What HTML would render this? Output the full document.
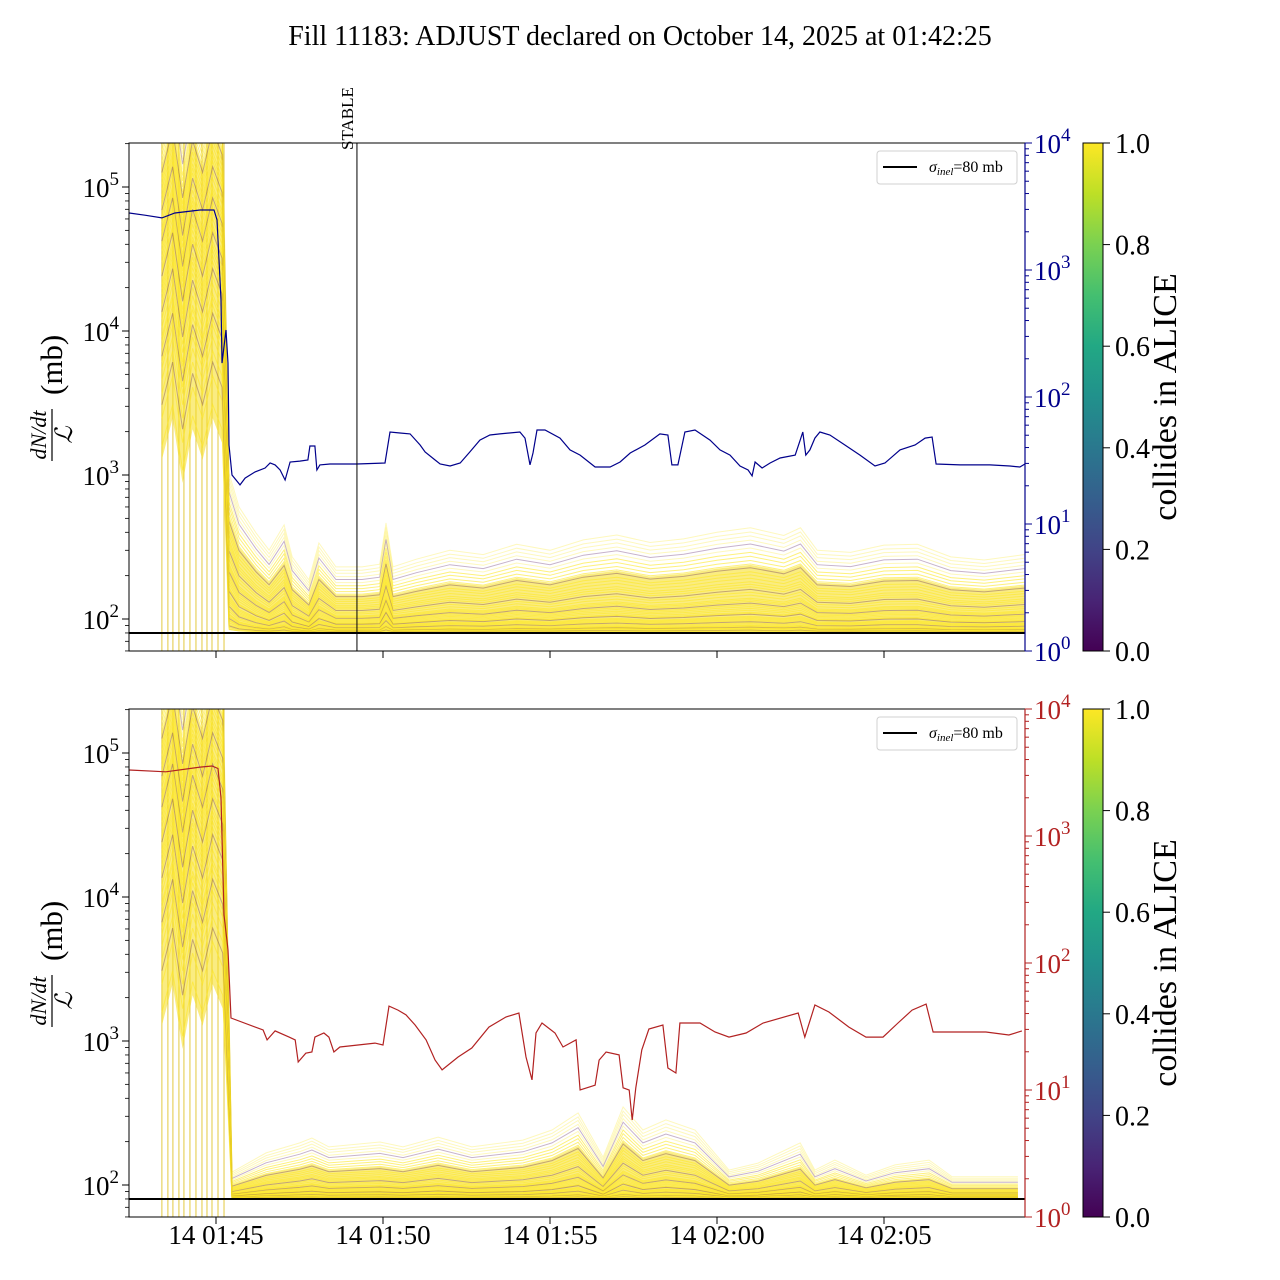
<!DOCTYPE html>
<html><head><meta charset="utf-8"><style>
html,body{margin:0;padding:0;background:#fff}
svg{display:block;font-family:"Liberation Serif",serif}
</style></head><body>
<svg id="fig" width="1280" height="1280" viewBox="0 0 1280 1280" xmlns="http://www.w3.org/2000/svg">
<defs>
<linearGradient id="viridis" x1="0" y1="1" x2="0" y2="0">
<stop offset="0" stop-color="#440154"/><stop offset="0.1" stop-color="#482475"/><stop offset="0.2" stop-color="#414487"/><stop offset="0.3" stop-color="#355f8d"/><stop offset="0.4" stop-color="#2a788e"/><stop offset="0.5" stop-color="#21918c"/><stop offset="0.6" stop-color="#22a884"/><stop offset="0.7" stop-color="#44bf70"/><stop offset="0.8" stop-color="#7ad151"/><stop offset="0.9" stop-color="#bddf26"/><stop offset="1" stop-color="#fde725"/>
</linearGradient>
<clipPath id="clipTop"><rect x="129" y="143" width="896" height="508"/></clipPath>
<clipPath id="clipBot"><rect x="129" y="709" width="896" height="508"/></clipPath>
</defs>
<rect width="1280" height="1280" fill="#fff"/>
<text x="640" y="45" font-size="28" text-anchor="middle">Fill 11183: ADJUST declared on October 14, 2025 at 01:42:25</text>
<g id="gTop"></g>
<g id="gBot"></g>
</svg>
<script>
// ---- data (time in minutes relative to 14 Oct 01:45:00) ----
const xTickLabels = ["14 01:45","14 01:50","14 01:55","14 02:00","14 02:05"];
const xTickMinutes = [0,5,10,15,20];
const stableMinute = 4.22;
const sigmaInel = 80;
const gapMinutes = [-1.62,-1.44,-1.29,-1.11,-0.96,-0.78,-0.60,-0.42,-0.27,-0.12,0.06,0.24];
// top panel bunch envelope (mb)
const topEnvT = [-1.62,-1.3,-1.0,-0.7,-0.4,-0.1,0.18,0.39,0.69,1.20,1.59,2.04,2.28,2.78,3.08,3.59,4.37,4.9,5.09,5.3,6.0,7.0,8.0,9.0,10.0,11.0,12.0,13.0,14.0,15.0,16.0,17.0,17.5,18.0,19.0,20.0,21.0,22.0,23.0,24.2];
const topEnvV = [3e5,6e5,2e5,5e5,3e5,6e5,4e5,1030,600,395,301,450,270,187,337,230,230,240,464,230,260,300,280,330,300,354,383,340,360,400,430,380,430,300,290,326,330,270,257,280];
// bottom panel bunch envelope (mb)
const botEnvT = [-1.62,-1.3,-1.0,-0.7,-0.4,-0.1,0.2,0.48,1.50,2.51,2.87,3.38,4.91,5.60,6.65,7.66,9.19,10.06,10.84,11.59,12.19,12.78,13.47,14.34,15.36,16.23,17.49,17.93,18.53,19.46,20.33,21.35,22.04,24.01];
const botEnvV = [3e5,6e5,2e5,5e5,3e5,6e5,4e5,123,167,196,212,184,199,184,215,184,205,241,316,156,348,241,283,241,127,142,196,127,149,117,138,149,114,114];
// per-bunch fraction of envelope excess and "collides in ALICE" colour value
const bunchFrac = [1.0,0.92,0.85,0.78,0.72,0.66,0.6,0.55,0.5,0.46,0.42,0.38,0.35,0.32,0.29,0.27,0.25,0.23,0.21,0.19,0.17,0.16,0.15,0.14,0.13,0.12,0.11,0.10,0.09,0.085,0.08,0.07,0.065,0.06,0.055,0.05,0.045,0.04,0.035,0.03,0.028,0.025,0.022,0.02,0.018,0.015,0.012,0.01,0.008,0.005];
const bunchColl = [1,1,1,1,0,1,1,1,1,1,0,1,1,1,1,1,1,0,1,1,1,1,1,0,1,1,1,1,1,1,0,1,1,1,1,1,0,1,1,1,1,1,0,1,1,1,1,0,1,1];
const bandFrac = [0.004, 0.45];
// top right-axis series (navy)
const blueT = [-2.60,-2.13,-1.62,-1.23,-0.48,-0.06,0.03,0.15,0.18,0.30,0.36,0.39,0.48,0.72,0.87,1.17,1.47,1.62,1.77,1.92,2.07,2.22,2.51,2.75,2.81,2.96,3.02,3.11,3.41,4.22,5.06,5.21,5.51,5.81,6.11,6.26,6.56,6.71,7.01,7.31,7.60,7.90,8.20,8.50,9.10,9.25,9.40,9.49,9.61,9.85,10.30,10.60,10.90,11.35,11.80,12.10,12.40,12.84,13.29,13.53,13.65,13.83,14.04,14.34,14.79,15.09,15.39,15.69,15.93,16.05,16.14,16.35,16.59,16.89,17.34,17.49,17.57,17.66,17.78,17.93,18.08,18.38,18.83,19.28,19.73,20.03,20.48,20.93,21.23,21.44,21.56,22.28,23.17,23.77,24.07,24.22];
const blueV = [2810,2700,2570,2810,2970,2970,2480,580,185,337,185,41.9,24.3,20.3,23.0,25.7,27.6,30.2,29.2,26.6,22.2,30.8,31.3,31.9,41.1,41.1,26.6,29.2,29.7,29.7,30.2,53.0,52.1,51.2,41.9,36.9,31.9,29.7,28.6,30.2,36.9,45.8,50.2,51.2,53.0,47.5,29.2,36.2,55.0,55.0,47.5,38.3,34.9,28.1,28.1,30.8,36.2,41.9,51.2,50.2,29.2,29.2,53.0,55.0,45.8,38.3,34.9,28.6,26.6,23.9,30.8,27.6,30.2,33.1,34.9,45.8,53.0,34.9,38.3,47.5,53.0,50.2,41.9,34.9,28.6,30.2,38.3,41.9,47.5,48.4,29.7,29.2,29.2,28.6,28.1,29.7];
// bottom right-axis series (red)
const redT = [-2.60,-1.5,-0.48,-0.12,0.06,0.15,0.24,0.36,0.45,1.41,1.53,1.77,2.19,2.37,2.46,2.69,2.87,2.96,3.23,3.38,3.53,3.71,4.76,5.00,5.18,5.45,5.69,5.96,6.29,6.56,6.77,7.25,7.66,8.17,8.68,9.07,9.28,9.46,9.58,9.76,10.15,10.39,10.78,10.90,11.35,11.47,11.68,12.07,12.19,12.37,12.46,12.57,12.75,12.96,13.38,13.53,13.77,13.89,14.49,14.94,15.36,15.87,16.38,17.43,17.63,17.93,18.35,18.95,19.46,19.97,20.42,20.84,21.26,21.47,23.05,23.74,24.13];
const redV = [3310,3200,3490,3560,3400,2000,239,127,36.9,29.7,24.8,29.2,26.1,24.8,16.6,19.5,19.9,26.1,28.1,26.1,19.9,21.8,23.4,22.6,45.8,42.6,39.0,32.5,24.8,17.2,14.4,18.2,21.4,31.3,37.6,40.4,18.2,12.0,28.1,33.7,28.1,21.8,24.8,10.0,10.9,17.2,19.9,18.9,10.4,10.0,5.8,10.4,20.7,30.2,32.5,14.9,13.6,33.7,33.7,28.6,26.1,28.1,33.7,40.4,26.1,46.7,41.1,31.3,26.1,26.1,33.7,42.6,47.5,28.6,28.6,27.1,29.2];
const colorbarTicks = ["0.0","0.2","0.4","0.6","0.8","1.0"];
const leftDecades = [2,3,4,5];
const rightDecades = [0,1,2,3,4];

// ---- scales ----
const NS = "http://www.w3.org/2000/svg";
const X0 = 216, PXMIN = 33.4;
function xs(t){ return X0 + t*PXMIN; }
function yLeft(v, top){ return top + 44 - (Math.log10(v)-5)*144; }
function yRight(v, top){ return top + 508 - Math.log10(v)*127; }
function mk(tag, attrs, parent){ const e=document.createElementNS(NS,tag); for(const k in attrs) e.setAttribute(k, attrs[k]); parent.appendChild(e); return e; }
function viridis(c){ return c>0.5 ? "#fde725" : "#440154"; }

function panel(g, top, clipId, envT, envV, rT, rV, rColor, isTop){
  const bottom = top+508;
  const bg = mk('g', {'clip-path':`url(#${clipId})`}, g);
  
  
  gapMinutes.forEach(t=>{
    const l = mk('line', {x1:xs(t), x2:xs(t), y1:top, y2:bottom, stroke:'#dcbc10', 'stroke-width':1, opacity:0.8}, bg);
    
    
  });
  // dense band fill
  let up='', lo='';
  envT.forEach((t,j)=>{
    const vHi = sigmaInel + (envV[j]-sigmaInel)*bandFrac[1];
    up += (j?'L':'M') + xs(t).toFixed(1) + ',' + yLeft(vHi,top).toFixed(1);
  });
  for(let j=envT.length-1;j>=0;j--){
    const vLo = sigmaInel + (envV[j]-sigmaInel)*bandFrac[0];
    lo += 'L' + xs(envT[j]).toFixed(1) + ',' + yLeft(vLo,top).toFixed(1);
  }
  const band = mk('path', {d:up+lo+'Z', fill:'#f5dc1a', opacity:0.55}, bg);
  
  
  bunchFrac.forEach((f,i)=>{
    let d='';
    envT.forEach((t,j)=>{
      const v = sigmaInel + (envV[j]-sigmaInel)*f;
      d += (j?'L':'M') + xs(t).toFixed(1) + ',' + yLeft(v,top).toFixed(1);
    });
    const dark = bunchColl[i] < 0.5;
    const p = mk('path', {d:d, fill:'none', stroke:viridis(bunchColl[i]), 'stroke-width':1, opacity: dark?0.3:(f>0.6?0.3:0.6)}, bg);
    
    
  });
  const sl = mk('line', {x1:129, x2:1025, y1:yLeft(sigmaInel,top), y2:yLeft(sigmaInel,top), stroke:'#000', 'stroke-width':2}, g);
  
  
  const rg = mk('g', {'clip-path':`url(#${clipId})`}, g);
  let d='';
  rT.forEach((t,j)=>{ d += (j?'L':'M') + xs(t).toFixed(1) + ',' + yRight(rV[j],top).toFixed(1); });
  const rp = mk('path', {d:d, fill:'none', stroke:rColor, 'stroke-width':1.2}, rg);
  
  
  if(isTop){
    const st = mk('line', {x1:xs(stableMinute), x2:xs(stableMinute), y1:top, y2:bottom, stroke:'#000', 'stroke-width':1}, g);
    
    
    const stt = mk('text', {x:0, y:0, 'font-size':17, transform:`translate(${xs(stableMinute)-4},150) rotate(-90)`}, g);
    stt.textContent = 'STABLE';
    
    
  }
  const fr = mk('path', {d:`M1025,${top}H129V${bottom}H1025`, fill:'none', stroke:'#000', 'stroke-width':1}, g);
  
  
  const rs = mk('line', {x1:1025, x2:1025, y1:top, y2:bottom, stroke:rColor, 'stroke-width':1.2}, g);
  
  
  for(let dec=1; dec<=5; dec++){
    for(let m=1;m<10;m++){
      const v = m*Math.pow(10,dec); const y = yLeft(v,top);
      if(y<top-0.5||y>bottom+0.5) continue;
      const tk = mk('line', {x1:129, x2:m===1?122:125, y1:y, y2:y, stroke:'#000', 'stroke-width':m===1?1:0.8}, g);
      
      
    }
  }
  leftDecades.forEach(dec=>{
    const y = yLeft(Math.pow(10,dec),top);
    const tx = mk('text', {x:119, y:y+10, 'font-size':27, 'text-anchor':'end'}, g);
    tx.innerHTML = `10<tspan dy="-12" font-size="19">${dec}</tspan>`;
    
    
  });
  for(let dec=0; dec<4; dec++){
    for(let m=1;m<=10;m++){
      const v = m*Math.pow(10,dec); const y = yRight(v,top);
      const tk = mk('line', {x1:1025, x2:(m===1||m===10)?1032:1029, y1:y, y2:y, stroke:rColor, 'stroke-width':1}, g);
      
      
    }
  }
  rightDecades.forEach(dec=>{
    const y = yRight(Math.pow(10,dec),top);
    const tx = mk('text', {x:1034, y:y+10, 'font-size':27, fill:rColor}, g);
    tx.innerHTML = `10<tspan dy="-12" font-size="19">${dec}</tspan>`;
    
    
  });
  xTickMinutes.forEach((t,i)=>{
    const tk = mk('line', {x1:xs(t), x2:xs(t), y1:bottom, y2:bottom+7, stroke:'#000', 'stroke-width':1}, g);
    
    
    if(!isTop){
      const tx = mk('text', {x:xs(t), y:bottom+27, 'font-size':27, 'text-anchor':'middle'}, g);
      tx.textContent = xTickLabels[i];
      
      
    }
  });
  const yl = mk('g', {transform:`translate(48,${top+254}) rotate(-90)`}, g);
  
  
  const num = mk('text', {x:-38, y:-2, 'font-size':22, 'font-style':'italic', 'text-anchor':'middle'}, yl);
  num.textContent = 'dN/dt';
  mk('line', {x1:-64, x2:-12, y1:4, y2:4, stroke:'#000', 'stroke-width':1.2}, yl);
  const den = mk('text', {x:-38, y:24, 'font-size':24, 'font-style':'italic', 'text-anchor':'middle'}, yl);
  den.textContent = 'ℒ';
  const mb = mk('text', {x:2, y:14, 'font-size':31}, yl);
  mb.textContent = '(mb)';
  const lg = mk('g', {}, g);
  
  
  mk('rect', {x:877, y:top+8, width:140, height:33, rx:3, fill:'#fff', stroke:'#ccc', 'stroke-width':1, opacity:0.9}, lg);
  mk('line', {x1:883, x2:917, y1:top+24, y2:top+24, stroke:'#000', 'stroke-width':2}, lg);
  const lt = mk('text', {x:929, y:top+29, 'font-size':16}, lg);
  lt.innerHTML = `<tspan font-style="italic">σ</tspan><tspan font-style="italic" font-size="11" dy="3">inel</tspan><tspan dy="-3">=80 mb</tspan>`;
  const cb = mk('g', {}, g);
  
  
  mk('rect', {x:1083, y:top, width:20, height:508, fill:'url(#viridis)', stroke:'#000', 'stroke-width':1}, cb);
  colorbarTicks.forEach((lab,i)=>{
    const y = bottom - i*508/5;
    mk('line', {x1:1103, x2:1110, y1:y, y2:y, stroke:'#000', 'stroke-width':1}, cb);
    const tx = mk('text', {x:1115, y:y+10, 'font-size':28}, cb);
    tx.textContent = lab;
    
    
  });
  const ct = mk('text', {x:0, y:0, 'font-size':34, 'text-anchor':'middle', transform:`translate(1176,${top+254}) rotate(-90)`}, cb);
  ct.textContent = 'collides in ALICE';
  
  
}
panel(document.getElementById('gTop'), 143, 'clipTop', topEnvT, topEnvV, blueT, blueV, '#00008b', true);
panel(document.getElementById('gBot'), 709, 'clipBot', botEnvT, botEnvV, redT, redV, '#b22222', false);
</script>
</body></html>
